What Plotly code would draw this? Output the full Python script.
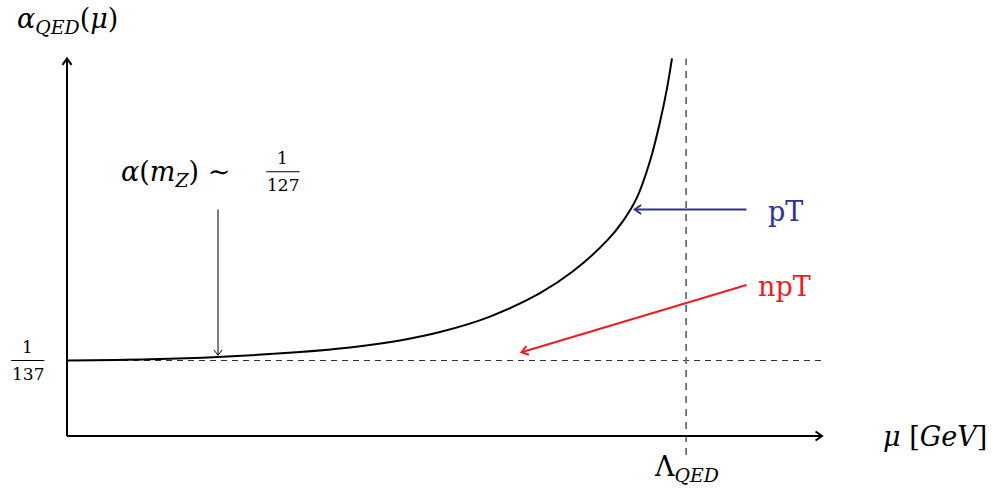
import plotly.graph_objects as go
import math

# ---- data (diagram units) ----
curve_mu = [0.0, 1.099, 2.000, 3.086, 3.748, 4.411, 4.940, 5.603, 6.265, 6.702,
            7.152, 7.364, 7.550, 7.722, 7.854, 7.947, 8.013]
curve_alpha = [1.000, 1.017, 1.048, 1.113, 1.173, 1.266, 1.377, 1.582, 1.893, 2.181,
               2.587, 2.846, 3.160, 3.642, 4.159, 4.604, 5.001]

axis_x_end = 10.0
axis_y_end = 5.0
alpha_low = 1.0          # 1/137 level
lambda_qed = 8.2         # Landau pole position
lambda_line_bottom = -0.25

arrow_pT = [(9.0, 3.0), (7.52, 3.0)]
arrow_npT = [(9.0, 2.0), (6.02, 1.11)]
arrow_mz = [(2.0, 3.0), (2.0, 1.07)]

# ---- layout constants ----
PX = 75.5          # pixels per unit
X0, Y0 = 67, 436   # pixel position of origin
W, H = 992, 493
FONT = "DejaVu Serif"
BLUE = "#2E3192"
RED = "#ED1C24"

fig = go.Figure()


def line(xs, ys, color, width, dash=None, shape="linear"):
    fig.add_trace(go.Scatter(x=xs, y=ys, mode="lines", hoverinfo="skip",
                             line=dict(color=color, width=width, dash=dash, shape=shape),
                             showlegend=False))


def arrow(tail, head, color, width, L=0.085, Wd=0.06):
    line([tail[0], head[0]], [tail[1], head[1]], color, width)
    dx, dy = head[0] - tail[0], head[1] - tail[1]
    n = math.hypot(dx, dy)
    ux, uy = dx / n, dy / n
    px, py = -uy, ux
    bx, by = head[0] - L * ux, head[1] - L * uy
    line([bx + Wd * px, head[0], bx - Wd * px],
         [by + Wd * py, head[1], by - Wd * py], color, width)


# dashed reference lines
line([0, axis_x_end], [alpha_low, alpha_low], "#333333", 1.2, "6px,5px")
line([lambda_qed, lambda_qed], [lambda_line_bottom, axis_y_end], "#707070", 1.8, "7px,6px")

# axes
arrow((0, 0), (axis_x_end, 0), "black", 2)
arrow((0, 0), (0, axis_y_end), "black", 2)

# running coupling
fig.add_trace(go.Scatter(x=curve_mu, y=curve_alpha, mode="lines", hoverinfo="skip",
                         line=dict(color="black", width=2, shape="spline", smoothing=1.0),
                         showlegend=False))

# annotation arrows
arrow(*arrow_pT, BLUE, 2)
arrow(*arrow_npT, RED, 2)
arrow(*arrow_mz, "black", 1, L=0.07, Wd=0.055)


def text(x, y, s, size=27, color="black", xanchor="center", yanchor="middle"):
    fig.add_annotation(x=x, y=y, text=s, showarrow=False, xanchor=xanchor, yanchor=yanchor,
                       font=dict(family=FONT, size=size, color=color))


def frac(x, y, num, den, size=17, half=0.22):
    text(x, y + 0.02, num, size=size, yanchor="bottom")
    text(x, y - 0.02, den, size=size, yanchor="top")
    fig.add_shape(type="line", x0=x - half, x1=x + half, y0=y, y1=y,
                  line=dict(color="black", width=1))


text(0.0, 5.51, "<i>α</i><sub><i>QED</i></sub>(<i>μ</i>)")
text(11.5, 0.0, "<i>μ</i> [<i>GeV</i>]")
text(lambda_qed, -0.43, "Λ<sub><i>QED</i></sub>")
text(9.26, 2.98, "pT", color=BLUE, xanchor="left")
text(9.13, 1.98, "npT", color=RED, xanchor="left")
text(2.19, 3.48, "<i>α</i>(<i>m</i><sub><i>Z</i></sub>) ∼", xanchor="right")
frac(2.86, 3.5, "1", "127")
frac(-0.52, alpha_low, "1", "137")

fig.update_layout(
    width=W, height=H, autosize=False,
    margin=dict(l=0, r=0, t=0, b=0),
    plot_bgcolor="white", paper_bgcolor="white",
    xaxis=dict(range=[-X0 / PX, (W - X0) / PX], visible=False, fixedrange=True),
    yaxis=dict(range=[(Y0 - H) / PX, Y0 / PX], visible=False, fixedrange=True),
)

fig.write_html("out.html", config={"displayModeBar": False},
               post_script="document.body.style.margin='0';")
